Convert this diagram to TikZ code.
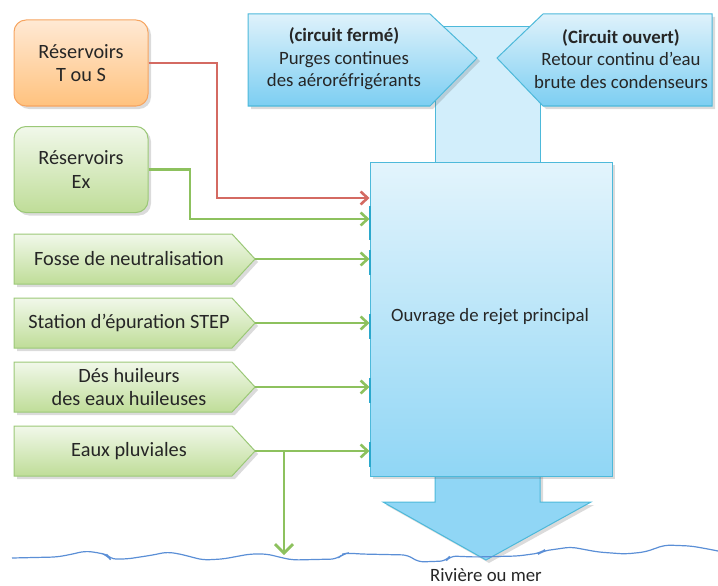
\documentclass[tikz,border=0pt]{standalone}
\usepackage{fontspec}
\setmainfont{Carlito}
\usetikzlibrary{arrows.meta,shadows,calc}
\definecolor{textc}{HTML}{262626}
\definecolor{gborder}{HTML}{9BC877}
\definecolor{gtop}{HTML}{F1F8EA}
\definecolor{gbot}{HTML}{BFDD98}
\definecolor{gline}{HTML}{8DC15E}
\definecolor{rline}{HTML}{D46A62}
\definecolor{otop}{HTML}{FFE9D4}
\definecolor{obot}{HTML}{FFC27E}
\definecolor{oborder}{HTML}{F6A561}
\definecolor{btop}{HTML}{E3F4FC}
\definecolor{bbot}{HTML}{90D6F5}
\definecolor{bborder}{HTML}{4DB9DA}
\definecolor{ptop}{HTML}{DFF2FB}
\definecolor{pbot}{HTML}{7CCEF2}
\definecolor{tick}{HTML}{2BA8CC}
\definecolor{wave}{HTML}{5B8FD6}
\begin{document}
\begin{tikzpicture}[x=1pt,y=-1pt,
  txt/.style={font=\fontsize{18.8}{22.5}\selectfont, text=textc, align=center},
  ltxt/.style={font=\fontsize{20.3}{23.5}\selectfont, text=textc, align=center},
  shad/.style={drop shadow={opacity=0.2,shadow xshift=3pt,shadow yshift=-3pt,fill=black!70}},
  rbox/.style={draw=#1border, line width=1pt, rounded corners=12pt, minimum width=134pt, minimum height=86pt, top color=#1top, bottom color=#1bot, shad, ltxt},
  gpent/.style={draw=gborder, line width=1pt, top color=gtop, bottom color=gbot, shad},
  bpent/.style={draw=bborder, line width=1pt, top color=ptop, bottom color=pbot, shad},
  gconn/.style={draw=gline, line width=2.6pt, -{Straight Barb[length=7pt,width=13pt]}},
  rconn/.style={draw=rline, line width=2.6pt, -{Straight Barb[length=7pt,width=13pt]}},
  tickmark/.style={draw=tick, line width=2.8pt}
]
\useasboundingbox (0,0) rectangle (718,586);

% top connector shaft
\path[fill=btop!80!bbot, draw=bborder, line width=1pt] (435,27) rectangle (540,162);

% bottom outflow arrow
\path[fill=bbot, shad] (435,470) -- (435,502) -- (383,502) -- (486,560) -- (591,502) -- (540,502) -- (540,470) -- cycle;
\draw[bborder, line width=1pt] (435,470) -- (435,502) -- (383,502) -- (486,560) -- (591,502) -- (540,502) -- (540,470);

% main box
\node[draw=bborder, line width=1pt, top color=btop, bottom color=bbot, shad, minimum width=242pt, minimum height=314pt, inner sep=0pt] (main) at (491,319) {};
\node[txt] (maintxt) at (490,317) {Ouvrage de rejet principal};

% top pentagons
\path[bpent] (248,14) -- (430,14) -- (477,58) -- (430,106) -- (248,106) -- cycle;
\path[bpent] (712,14) -- (543,14) -- (497,58) -- (543,106) -- (712,106) -- cycle;
\node[txt] (ferme) at (344,59) {{\bfseries (circuit fermé)}\\Purges continues\\des aéroréfrigérants};
\node[txt] (ouvert) at (621,59) {{\bfseries (Circuit ouvert)}\\Retour continu d’eau\\brute des condenseurs};

% reservoirs
\node[rbox=o] (tous) at (81,63) {Réservoirs\\T ou S};
\node[rbox=g] (ex) at (81,169.5) {Réservoirs\\Ex};

% green pentagons
\path[gpent] (14,234) -- (232,234) -- (255,259) -- (232,284) -- (14,284) -- cycle;
\path[gpent] (14,298) -- (232,298) -- (255,323) -- (232,348) -- (14,348) -- cycle;
\path[gpent] (14,362) -- (232,362) -- (255,387) -- (232,412) -- (14,412) -- cycle;
\path[gpent] (14,426) -- (232,426) -- (255,451) -- (232,476) -- (14,476) -- cycle;
\node[ltxt] (fosse) at (129,259) {Fosse de neutralisation};
\node[ltxt] (step) at (129,323) {Station d’épuration STEP};
\node[ltxt] (deshuil) at (129,387) {Dés huileurs\\des eaux huileuses};
\node[ltxt] (pluv) at (129,451) {Eaux pluviales};
\coordinate (fossetip) at (255,259);
\coordinate (steptip) at (255,323);
\coordinate (deshuiltip) at (255,387);
\coordinate (pluvtip) at (255,451);

% ticks on main box
\draw[tickmark] (370,206) -- (370,240);
\draw[tickmark] (370,250) -- (370,275);
\draw[tickmark] (370,314) -- (370,339);
\draw[tickmark] (370,378) -- (370,403);
\draw[tickmark] (370,442) -- (370,467);

% connectors
\draw[rconn] (tous.east) -| (217,198) -- (main.west |- 217,198);
\draw[gconn] (ex.east) -| (190,219) -- (main.west |- 190,219);
\draw[gconn] (fossetip) -- (main.west |- fossetip);
\draw[gconn] (steptip) -- (main.west |- steptip);
\draw[gconn] (deshuiltip) -- (main.west |- deshuiltip);
\draw[gconn] (pluvtip) -- (main.west |- pluvtip);
\coordinate (branch) at (284,451);
\coordinate (river) at (284,555);
\draw[draw=gline, line width=2.8pt, -{Straight Barb[length=9pt,width=18pt]}] (branch) -- (river);

% river line
\draw[wave, line width=1.2pt, rounded corners=6pt] (12,558) -- (57,557) -- (73,554) -- (85,551) -- (100,553) -- (107,555) -- (110,559) -- (127,559) -- (153,555) -- (167,552) -- (180,554) -- (203,560) -- (223,559) -- (250,554) -- (267,554) -- (283,558) -- (293,560) -- (337,559) -- (343,554) -- (348,553) -- (360,554) -- (408,555) -- (418,562) -- (446,561) -- (450,556) -- (475,557) -- (518,556) -- (540,553) -- (543,551) -- (571,547) -- (598,552) -- (625,554) -- (645,552) -- (665,545) -- (691,546) -- (708,549) -- (718,551);
\node[txt] (riviere) at (486,575) {Rivière ou mer};
\end{tikzpicture}
\end{document}
